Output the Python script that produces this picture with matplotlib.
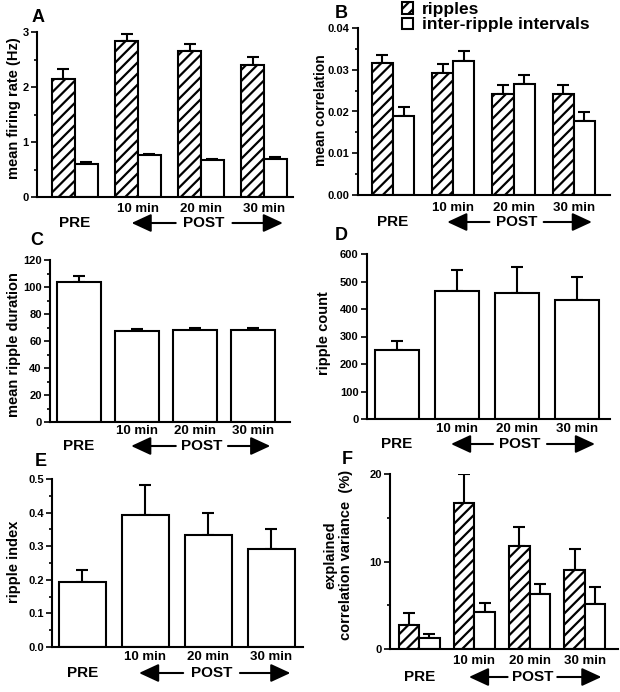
import matplotlib
matplotlib.use('Agg')
import matplotlib.pyplot as plt
import numpy as np
from matplotlib import transforms
from matplotlib.ticker import MultipleLocator, FormatStrFormatter, NullLocator

W, H = 620, 692
plt.rcParams['font.family'] = ['Liberation Sans', 'DejaVu Sans']
plt.rcParams['font.weight'] = 'bold'
plt.rcParams['hatch.linewidth'] = 1.6

conditions = ["PRE", "10 min", "20 min", "30 min"]

# A: mean firing rate (Hz)
rate_ripple = [2.15, 2.83, 2.65, 2.40]
rate_ripple_err = [0.17, 0.14, 0.14, 0.14]
rate_inter = [0.60, 0.76, 0.68, 0.69]
rate_inter_err = [0.03, 0.02, 0.015, 0.04]

# B: mean correlation
corr_ripple = [0.0316, 0.0292, 0.0243, 0.0243]
corr_ripple_err = [0.0020, 0.0021, 0.0021, 0.0021]
corr_inter = [0.0190, 0.0322, 0.0266, 0.0177]
corr_inter_err = [0.0020, 0.0023, 0.0021, 0.0021]

# C: mean ripple duration
duration = [104, 67.5, 68.5, 68.5]
duration_err = [4, 1.2, 1.2, 1.2]

# D: ripple count
count = [250, 465, 458, 432]
count_err = [32, 76, 94, 84]

# E: ripple index
index = [0.193, 0.394, 0.334, 0.293]
index_err = [0.037, 0.088, 0.066, 0.059]

# F: explained correlation variance (%)
ev_ripple = [2.8, 16.7, 11.8, 9.0]
ev_ripple_err = [1.3, 3.3, 2.2, 2.4]
ev_inter = [1.3, 4.2, 6.3, 5.1]
ev_inter_err = [0.4, 1.1, 1.1, 2.0]

x = np.arange(len(conditions))

fig = plt.figure(figsize=(W / 100, H / 100), dpi=100)


def add_axes(left, top, right, bottom):
    return fig.add_axes([left / W, 1 - bottom / H, (right - left) / W, (bottom - top) / H])


def errbars(ax, xpos, vals, errs):
    ax.errorbar(xpos, vals, yerr=[np.zeros(len(vals)), errs], fmt='none',
                ecolor='k', elinewidth=1.5, capsize=4.5, capthick=1.5, zorder=1)


def pair_bars(ax, r, r_err, i, i_err, w):
    b1 = ax.bar(x - w / 2, r, w, facecolor='white', edgecolor='k', hatch='///',
                linewidth=1.5, zorder=2)
    b2 = ax.bar(x + w / 2, i, w, facecolor='white', edgecolor='k', linewidth=1.5, zorder=2)
    errbars(ax, x - w / 2, r, r_err)
    errbars(ax, x + w / 2, i, i_err)
    return b1, b2


def single_bars(ax, v, v_err, w):
    ax.bar(x, v, w, facecolor='white', edgecolor='k', linewidth=1.5, zorder=2)
    errbars(ax, x, v, v_err)


def style(ax, xlim, ymax, major, minor, fmt, min_off, pre_off, post_x=2.05):
    ax.set_xlim(*xlim)
    ax.set_ylim(0, ymax)
    ax.yaxis.set_major_locator(MultipleLocator(major))
    if minor:
        ax.yaxis.set_minor_locator(MultipleLocator(minor))
    else:
        ax.yaxis.set_minor_locator(NullLocator())
    ax.yaxis.set_major_formatter(FormatStrFormatter(fmt))
    for s in ['top', 'right']:
        ax.spines[s].set_visible(False)
    for s in ['left', 'bottom']:
        ax.spines[s].set_linewidth(1.5)
    ax.tick_params(axis='y', which='major', direction='out', length=4.5, width=1.2,
                   pad=1.5, labelsize=8)
    ax.tick_params(axis='y', which='minor', direction='out', length=2.5, width=1.2)
    ax.set_xticks(x[1:])
    ax.set_xticklabels(conditions[1:], fontsize=9.5, fontweight='bold')
    ax.tick_params(axis='x', length=0, pad=min_off - 7)
    trans = transforms.offset_copy(ax.get_xaxis_transform(), fig=fig, y=-pre_off, units='dots')
    ax.text(0, 0, conditions[0], transform=trans, ha='center', va='center',
            fontsize=11, fontweight='bold')
    ax.text(post_x, 0, 'POST', transform=trans, ha='center', va='center',
            fontsize=11, fontweight='bold')
    arrow = dict(arrowstyle='-|>,head_length=0.8,head_width=0.37', mutation_scale=15,
                 lw=1.5, color='k', shrinkA=0, shrinkB=0)
    ax.annotate('', xy=(0.9, 0), xytext=(post_x - 0.45, 0), xycoords=trans,
                textcoords=trans, arrowprops=arrow, annotation_clip=False)
    ax.annotate('', xy=(3.3, 0), xytext=(post_x + 0.45, 0), xycoords=trans,
                textcoords=trans, arrowprops=arrow, annotation_clip=False)


def ylabel(xp, yp, txt, size=10.5):
    fig.text(xp / W, 1 - yp / H, txt, rotation=90, ha='center', va='center',
             fontsize=size, fontweight='bold')


def letter(xp, yp, txt):
    fig.text(xp / W, 1 - yp / H, txt, ha='center', va='center', fontsize=13,
             fontweight='bold')


# A
axA = add_axes(37, 32, 293, 197)
pair_bars(axA, rate_ripple, rate_ripple_err, rate_inter, rate_inter_err, 0.36)
style(axA, (-0.6, 3.46), 3, 1, 0.5, '%d', 11, 26)
ylabel(14, 108, 'mean firing rate (Hz)')
letter(38, 17, 'A')

# B
axB = add_axes(358, 28, 610, 195)
hb1, hb2 = pair_bars(axB, corr_ripple, corr_ripple_err, corr_inter, corr_inter_err, 0.35)
style(axB, (-0.58, 3.6), 0.04, 0.01, 0.005, '%.2f', 12, 27)
ylabel(321, 110, 'mean correlation', size=10)
letter(341, 13, 'B')
fig.legend([hb1, hb2], ['ripples', 'inter-ripple intervals'], loc='upper left',
           bbox_to_anchor=(402 / W, 1 - 2 / H), frameon=False,
           prop={'size': 12.5, 'weight': 'bold'}, handlelength=0.65, handleheight=0.62,
           handletextpad=0.5, labelspacing=0.02, borderpad=0, borderaxespad=0)

# C
axC = add_axes(50, 260, 290, 422)
single_bars(axC, duration, duration_err, 0.76)
style(axC, (-0.5, 3.64), 120, 20, 10, '%d', 9, 24, post_x=2.12)
ylabel(14, 345, 'mean ripple duration')
letter(37, 240, 'C')

# D
axD = add_axes(367, 254, 610, 419)
single_bars(axD, count, count_err, 0.72)
style(axD, (-0.5, 3.55), 600, 100, None, '%d', 10, 25)
ylabel(324, 333, 'ripple count')
letter(341, 236, 'D')

# E
axE = add_axes(52, 479, 303, 647)
single_bars(axE, index, index_err, 0.75)
style(axE, (-0.48, 3.5), 0.5, 0.1, 0.05, '%.1f', 10, 26)
ylabel(14, 562, 'ripple index')
letter(41, 461, 'E')

# F
axF = add_axes(390, 474, 618, 649)
pair_bars(axF, ev_ripple, ev_ripple_err, ev_inter, ev_inter_err, 0.37)
style(axF, (-0.53, 3.6), 20, 10, 5, '%d', 11, 28)
ylabel(338, 555, 'explained\ncorrelation variance  (%)')
letter(347, 459, 'F')

fig.savefig('out.png', dpi=100)
